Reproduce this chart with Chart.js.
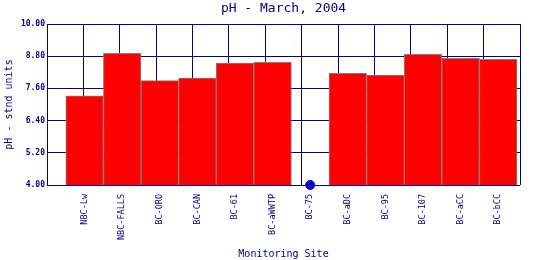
<!DOCTYPE html>
<html>
<head>
<meta charset="utf-8">
<script src="https://cdn.jsdelivr.net/npm/chart.js@4"></script>
<style>
  html, body { margin: 0; padding: 0; background: #fff; }
  #wrap { width: 540px; height: 260px; }
</style>
</head>
<body>
<div id="wrap"><canvas id="c" width="540" height="260"></canvas></div>
<script>
const sites = ['NBC-Lw', 'NBC-FALLS', 'BC-ORO', 'BC-CAN', 'BC-61', 'BC-aWWTP',
               'BC-75', 'BC-aDC', 'BC-95', 'BC-107', 'BC-aCC', 'BC-bCC'];
const ph = [7.32, 8.91, 7.89, 7.98, 8.54, 8.57, null, 8.16, 8.10, 8.87, 8.72, 8.68];
// sites with no reading get a dot on the baseline
const noData = ['BC-75'];
const yTicks = [4.0, 5.2, 6.4, 7.6, 8.8, 10.0];

const navy = '#000080';
const mono = 'DejaVu Sans Mono';

new Chart(document.getElementById('c'), {
  type: 'bar',
  data: {
    datasets: [
      {
        type: 'scatter',
        data: noData.map(s => ({ x: sites.indexOf(s), y: yTicks[0] })),
        pointRadius: 4.5,
        backgroundColor: '#0000cc',
        borderColor: '#0000cc',
        clip: false,
        order: 0
      },
      {
        type: 'bar',
        data: sites.map((s, i) => ({ x: i, y: ph[i] })),
        backgroundColor: '#ff0000',
        borderColor: '#808080',
        borderWidth: 1,
        borderSkipped: false,
        barPercentage: 1,
        categoryPercentage: 1,
        order: 1
      }
    ]
  },
  options: {
    responsive: false,
    animation: false,
    devicePixelRatio: 1,
    layout: { padding: { right: 20 } },
    plugins: {
      legend: { display: false },
      tooltip: { enabled: false },
      title: {
        display: true,
        text: 'pH - March, 2004',
        color: navy,
        fullSize: false,
        font: { family: mono, size: 13, weight: 'normal', lineHeight: 1.2 },
        padding: { top: 1, bottom: 7.4 }
      }
    },
    scales: {
      x: {
        type: 'linear',
        offset: false,
        min: -1,
        max: 11.58,
        afterBuildTicks: a => { a.ticks = sites.map((s, i) => ({ value: i })); },
        ticks: {
          callback: v => sites[v],
          autoSkip: false,
          minRotation: 90,
          maxRotation: 90,
          padding: 1,
          color: navy,
          font: { family: mono, size: 8.5 }
        },
        grid: { display: false, offset: false },
        border: { display: false },
        title: {
          display: true,
          text: 'Monitoring Site',
          color: navy,
          font: { family: mono, size: 10 },
          padding: 0
        },
        afterFit: a => { a.height = 75; }
      },
      gx: {
        type: 'linear',
        position: 'bottom',
        offset: false,
        min: 0,
        max: 13,
        ticks: { display: false, stepSize: 1 },
        grid: { color: navy, drawTicks: false, offset: false },
        border: { display: false },
        afterFit: a => { a.height = 0; }
      },
      y: {
        min: 4,
        max: 10,
        afterBuildTicks: a => { a.ticks = yTicks.map(v => ({ value: v })); },
        ticks: {
          callback: v => v.toFixed(2),
          padding: 2,
          color: navy,
          font: { family: mono, size: 8, weight: 'bold' }
        },
        grid: { color: navy, drawTicks: false },
        border: { color: navy },
        title: {
          display: true,
          text: 'pH - stnd units',
          color: navy,
          font: { family: mono, size: 10 },
          padding: { top: 3, bottom: 0 }
        },
        afterFit: a => { a.width = 47; }
      }
    }
  }
});
</script>
</body>
</html>
